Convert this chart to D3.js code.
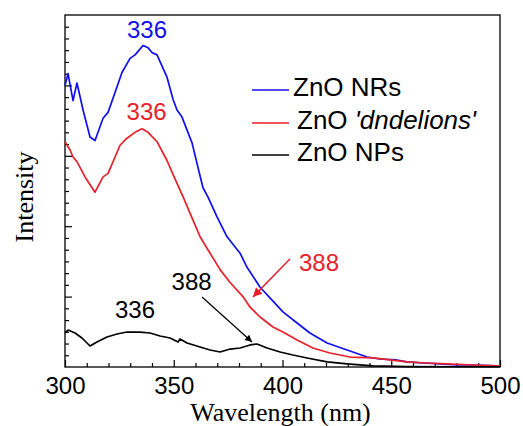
<!DOCTYPE html>
<html>
<head>
<meta charset="utf-8">
<script src="https://cdn.jsdelivr.net/npm/d3@7"></script>
<style>
  body { margin: 0; background: #fff; }
  svg { display: block; }
  .tick line { stroke: #000; stroke-width: 1.2; }
</style>
</head>
<body>
<div id="chart"></div>
<script>
// PL spectra (arbitrary intensity units)
var nrsWl = [300, 301.4, 303.7, 305.5, 308.3, 311.5, 313.8, 317.5, 319.8, 323, 326.2, 329.9, 332.2, 335.9, 338.2, 340, 342.3, 346.9, 349.7, 351.5, 353.8, 358.4, 363.4, 365.7, 369.9, 374.5, 380.5, 383.7, 389.7, 395.2, 400.2, 406.7, 412.6, 420.5, 429.7, 438.9, 444.8, 452.6, 457.2, 464.6, 472.4, 480.2, 487.6, 498.6, 500];
var nrsI = [24.0, 25.0, 22.7, 24.2, 21.9, 19.6, 19.3, 21.2, 21.7, 23.4, 25.1, 26.3, 26.6, 27.4, 27.2, 26.8, 26.6, 24.7, 22.8, 21.9, 21.3, 19.1, 15.3, 14.5, 12.8, 11.1, 9.7, 8.5, 6.8, 5.7, 4.7, 3.75, 2.9, 2.05, 1.45, 0.85, 0.68, 0.6, 0.43, 0.34, 0.26, 0.17, 0.17, 0.09, 0.08];

var dandWl = [300, 302.3, 303.7, 305.5, 309.2, 313.8, 317.5, 319.8, 325.3, 328.5, 332.2, 335.4, 338.2, 342.3, 346.9, 349.7, 354.3, 358.9, 362.1, 366.7, 371.3, 375.9, 381.8, 385.1, 389.7, 395.6, 400.2, 406.7, 414, 421.8, 431, 441.6, 449.4, 457.2, 466.4, 475.6, 487.6, 498.6, 500];
var dandI = [19.2, 18.5, 17.9, 17.5, 16.2, 14.9, 16.2, 16.5, 18.9, 19.5, 20.0, 20.3, 20.0, 19.2, 17.6, 16.4, 14.5, 12.5, 11.1, 9.7, 8.3, 7.2, 6.0, 5.1, 4.26, 3.41, 2.98, 2.3, 1.62, 1.19, 0.85, 0.77, 0.6, 0.43, 0.34, 0.26, 0.17, 0.09, 0.08];

var npsWl = [300, 301.4, 304.6, 307.8, 311.5, 314.7, 319.3, 323.9, 328.5, 334.5, 339.1, 343.7, 348.3, 352, 352.9, 356.1, 362.1, 366.7, 371.3, 375.9, 380.5, 385.1, 388.3, 392.9, 398.9, 404.8, 411.3, 420.5, 429.7, 441.6, 457.2, 480, 500];
var npsI = [2.9, 3.15, 2.9, 2.47, 1.79, 2.13, 2.56, 2.81, 2.98, 2.98, 2.9, 2.64, 2.47, 2.13, 2.39, 2.05, 1.7, 1.45, 1.28, 1.53, 1.62, 1.88, 1.96, 1.62, 1.28, 1.02, 0.77, 0.43, 0.26, 0.09, 0.04, 0.02, 0.02];

var seriesNames = ["ZnO NRs", "ZnO 'dndelions'", "ZnO NPs"];
var xTicks = [300, 350, 400, 450, 500];

// peak labels, in data coordinates
var peakLabels = [
  { text: "336", wl: 337.7, i: 28.05, c: "blue" },
  { text: "336", wl: 337.5, i: 21.06, c: "red" },
  { text: "336", wl: 332.2, i: 4.18, c: "black" },
  { text: "388", wl: 358.2, i: 6.56, c: "black" },
  { text: "388", wl: 416.8, i: 8.18, c: "red" }
];
var arrows = [
  { from: [363, 5.97], to: [386, 2.13], c: "black" },
  { from: [403.4, 9.2], to: [386.4, 5.97], c: "red" }
];

var colors = { blue: "#1010ee", red: "#e8202a", black: "#000" };

var margin = { top: 15, right: 23, bottom: 59, left: 65 },
  width = 523 - margin.left - margin.right,
  height = 426 - margin.top - margin.bottom;

var svg = d3.select("#chart").append("svg")
  .attr("width", 523)
  .attr("height", 426);

var g = svg.append("g")
  .attr("transform", "translate(" + margin.left + "," + margin.top + ")");

var x = d3.scaleLinear().domain([300, 500]).range([0, width]);
var y = d3.scaleLinear().domain([0, 30]).range([height, 0]);

g.append("defs").selectAll("marker")
  .data(["black", "red"])
  .enter().append("marker")
  .attr("id", function (d) { return "arrow-" + d; })
  .attr("viewBox", "0 0 10 10")
  .attr("refX", 10).attr("refY", 5)
  .attr("markerUnits", "userSpaceOnUse")
  .attr("markerWidth", function (d) { return d == "red" ? 12 : 10; })
  .attr("markerHeight", function (d) { return d == "red" ? 9 : 7; })
  .attr("orient", "auto")
  .append("path")
  .attr("d", "M0,0 L10,5 L0,10 z")
  .attr("fill", function (d) { return colors[d]; });

// x axis: minor + major ticks pointing inward
var xMinor = d3.range(300, 501, 10).filter(function (d) { return d % 50 != 0; });
g.append("g")
  .attr("transform", "translate(0," + height + ")")
  .call(d3.axisBottom(x).tickValues(xMinor).tickSize(-4).tickFormat(""))
  .call(function (s) { s.select(".domain").remove(); });

g.append("g")
  .attr("transform", "translate(0," + height + ")")
  .call(d3.axisBottom(x).tickValues(xTicks).tickSize(-7).tickPadding(10).tickFormat(d3.format("d")))
  .call(function (s) {
    s.select(".domain").remove();
    s.selectAll("text")
      .attr("fill", "#000")
      .style("font-family", "'Liberation Sans', Arial, sans-serif")
      .style("font-size", "24px");
  });

// y axis: no labels
g.append("g")
  .call(d3.axisLeft(y).tickValues(d3.range(1, 30).filter(function (d) { return d % 6 != 0; })).tickSize(-4).tickFormat(""))
  .call(function (s) { s.select(".domain").remove(); });
g.append("g")
  .call(d3.axisLeft(y).tickValues([6, 12, 18, 24]).tickSize(-7).tickFormat(""))
  .call(function (s) { s.select(".domain").remove(); });

// frame
g.append("rect")
  .attr("width", width)
  .attr("height", height)
  .attr("fill", "none")
  .attr("stroke", "#000")
  .attr("stroke-width", 1.3);

var line = d3.line()
  .x(function (d) { return x(d[0]); })
  .y(function (d) { return y(d[1]); });

var series = [
  { wl: nrsWl, v: nrsI, c: "blue" },
  { wl: dandWl, v: dandI, c: "red" },
  { wl: npsWl, v: npsI, c: "black" }
];

series.forEach(function (s) {
  g.append("path")
    .datum(s.wl.map(function (w, i) { return [w, s.v[i]]; }))
    .attr("fill", "none")
    .attr("stroke", colors[s.c])
    .attr("stroke-width", 1.7)
    .attr("stroke-linejoin", "round")
    .attr("d", line);
});

// peak labels and arrows
g.selectAll(".peak")
  .data(peakLabels)
  .enter().append("text")
  .attr("class", "peak")
  .attr("x", function (d) { return x(d.wl); })
  .attr("y", function (d) { return y(d.i); })
  .attr("text-anchor", "middle")
  .attr("fill", function (d) { return colors[d.c]; })
  .style("font-family", "'Liberation Sans', Arial, sans-serif")
  .style("font-size", "24px")
  .text(function (d) { return d.text; });

g.selectAll(".arrow")
  .data(arrows)
  .enter().append("line")
  .attr("class", "arrow")
  .attr("x1", function (d) { return x(d.from[0]); })
  .attr("y1", function (d) { return y(d.from[1]); })
  .attr("x2", function (d) { return x(d.to[0]); })
  .attr("y2", function (d) { return y(d.to[1]); })
  .attr("stroke", function (d) { return colors[d.c]; })
  .attr("stroke-width", function (d) { return d.c == "red" ? 1.5 : 1.2; })
  .attr("marker-end", function (d) { return "url(#arrow-" + d.c + ")"; });

// legend
var legendY = [90, 123, 155];
var legendTextX = [293, 297, 297];
var legendBase = [96, 129, 161];
var legend = svg.append("g");
seriesNames.forEach(function (name, i) {
  legend.append("line")
    .attr("x1", 252).attr("x2", 289)
    .attr("y1", legendY[i]).attr("y2", legendY[i])
    .attr("stroke", colors[series[i].c])
    .attr("stroke-width", 1.6);
  var t = legend.append("text")
    .attr("x", legendTextX[i])
    .attr("y", legendBase[i])
    .style("font-family", "'Liberation Sans', Arial, sans-serif")
    .style("font-size", "26px");
  if (name.indexOf("'") > 0) {
    var parts = name.split(" ");
    t.append("tspan").text(parts[0] + " ");
    t.append("tspan").style("font-style", "italic").text(parts[1]);
  } else {
    t.text(name);
  }
});

// axis titles
svg.append("text")
  .attr("x", margin.left + width / 2 - 2)
  .attr("y", 421)
  .attr("text-anchor", "middle")
  .style("font-family", "'Liberation Serif', 'Times New Roman', serif")
  .style("font-size", "26px")
  .text("Wavelength (nm)");

svg.append("text")
  .attr("transform", "translate(33,197) rotate(-90)")
  .attr("text-anchor", "middle")
  .style("font-family", "'Liberation Serif', 'Times New Roman', serif")
  .style("font-size", "26px")
  .text("Intensity");
</script>
</body>
</html>
